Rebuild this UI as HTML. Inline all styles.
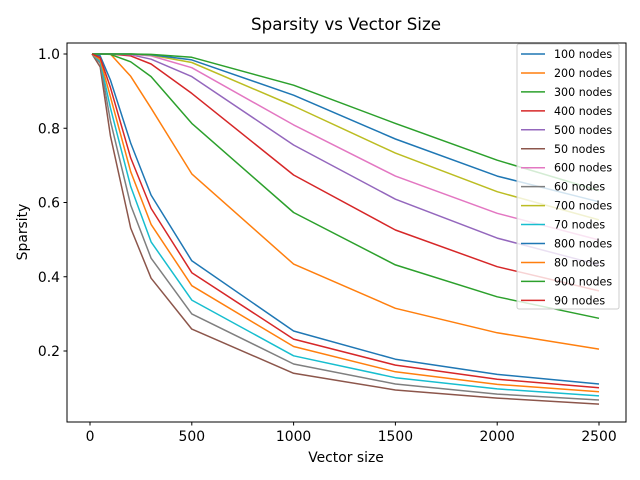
<!DOCTYPE html>
<html><head><meta charset="utf-8"><style>
body{margin:0;background:#fff}
svg{display:block;font-family:"DejaVu Sans","Liberation Sans",sans-serif}
</style></head><body>
<svg id="chart" width="640" height="480" viewBox="0 0 640 480" xmlns="http://www.w3.org/2000/svg">
<rect width="640" height="480" fill="#fff"/>
<text x="346" y="30" text-anchor="middle" font-size="16.7">Sparsity vs Vector Size</text>
<text x="346" y="462" text-anchor="middle" font-size="13.9">Vector size</text>
<text transform="translate(27,232) rotate(-90)" text-anchor="middle" font-size="13.9">Sparsity</text>
<g id="plot"></g>
<rect x="67" y="43" width="559" height="379" fill="none" stroke="#000" stroke-width="1"/>
<g id="legend"></g>
</svg>
<script>
const xValues = [10, 50, 100, 200, 300, 500, 1000, 1500, 2000, 2500];
const seriesNames = ["100 nodes","200 nodes","300 nodes","400 nodes","500 nodes","50 nodes","600 nodes","60 nodes","700 nodes","70 nodes","800 nodes","80 nodes","900 nodes","90 nodes"];
const seriesColors = ["#1f77b4","#ff7f0e","#2ca02c","#d62728","#9467bd","#8c564b","#e377c2","#7f7f7f","#bcbd22","#17becf","#1f77b4","#ff7f0e","#2ca02c","#d62728"];
const s100 = [1,0.995,0.93,0.76,0.62,0.443,0.254,0.178,0.137,0.111];
const s200 = [1,1,1,0.94,0.854,0.677,0.434,0.315,0.249,0.205];
const s300 = [1,1,0.999,0.979,0.939,0.813,0.573,0.432,0.346,0.288];
const s400 = [1,1,1,0.995,0.973,0.894,0.674,0.526,0.427,0.362];
const s500 = [1,1,1,0.998,0.986,0.939,0.755,0.609,0.504,0.432];
const s50 = [1,0.965,0.78,0.531,0.396,0.259,0.14,0.095,0.073,0.057];
const s600 = [1,1,1,0.999,0.995,0.963,0.809,0.671,0.571,0.499];
const s60 = [1,0.975,0.82,0.593,0.45,0.30,0.165,0.111,0.084,0.068];
const s700 = [1,1,1,1,0.997,0.977,0.86,0.733,0.629,0.553];
const s70 = [1,0.98,0.855,0.643,0.494,0.337,0.187,0.128,0.098,0.079];
const s800 = [1,1,1,1,0.998,0.984,0.889,0.771,0.671,0.602];
const s80 = [1,0.985,0.885,0.683,0.541,0.376,0.212,0.144,0.11,0.09];
const s900 = [1,1,1,1,0.999,0.991,0.916,0.813,0.714,0.632];
const s90 = [1,0.99,0.91,0.72,0.584,0.411,0.232,0.162,0.124,0.101];
const seriesValues = [s100,s200,s300,s400,s500,s50,s600,s60,s700,s70,s800,s80,s900,s90];
const xTicks = [0,500,1000,1500,2000,2500];
const yTicks = [0.2,0.4,0.6,0.8,1.0];
const yTickLabels = ["0.2","0.4","0.6","0.8","1.0"];

const NS="http://www.w3.org/2000/svg";
const xScale = v => 90 + v*(509/2500);
const yScale = v => 54 + (1-v)*371.25;
const plot=document.getElementById('plot');
function mk(t,a){const e=document.createElementNS(NS,t);for(const k in a)e.setAttribute(k,a[k]);return e;}
xTicks.forEach(t=>{
  const x=xScale(t);
  const l=mk('line',{x1:x,x2:x,y1:422,y2:425.5,stroke:'#000'});
  
  
  plot.appendChild(l);
  const tx=mk('text',{x:x,y:441,'text-anchor':'middle','font-size':'13.9'});
  
  
  tx.textContent=t;plot.appendChild(tx);
});
yTicks.forEach((t,i)=>{
  const y=yScale(t);
  const l=mk('line',{x1:63.5,x2:67,y1:y,y2:y,stroke:'#000'});
  
  
  plot.appendChild(l);
  const tx=mk('text',{x:60,y:y+5,'text-anchor':'end','font-size':'13.9'});
  
  
  tx.textContent=yTickLabels[i];plot.appendChild(tx);
});
seriesValues.forEach((vals,i)=>{
  const pts=vals.map((v,j)=>xScale(xValues[j]).toFixed(1)+','+yScale(v).toFixed(1)).join(' ');
  const p=mk('polyline',{points:pts,fill:'none',stroke:seriesColors[i],'stroke-width':'1.5','stroke-linejoin':'round'});
  
  
  plot.appendChild(p);
});
const lg=document.getElementById('legend');
const box=mk('rect',{x:517,y:44,width:102,height:265,rx:2,fill:'#fff','fill-opacity':'0.8',stroke:'#ccc'});


lg.appendChild(box);
seriesNames.forEach((n,i)=>{
  const y=54+i*18.95;
  const l=mk('line',{x1:521,x2:545,y1:y,y2:y,stroke:seriesColors[i],'stroke-width':'1.5'});
  
  
  lg.appendChild(l);
  const t=mk('text',{x:554,y:y+4,'font-size':'11.1'});
  
  
  t.textContent=n;lg.appendChild(t);
});
</script>
</body></html>
